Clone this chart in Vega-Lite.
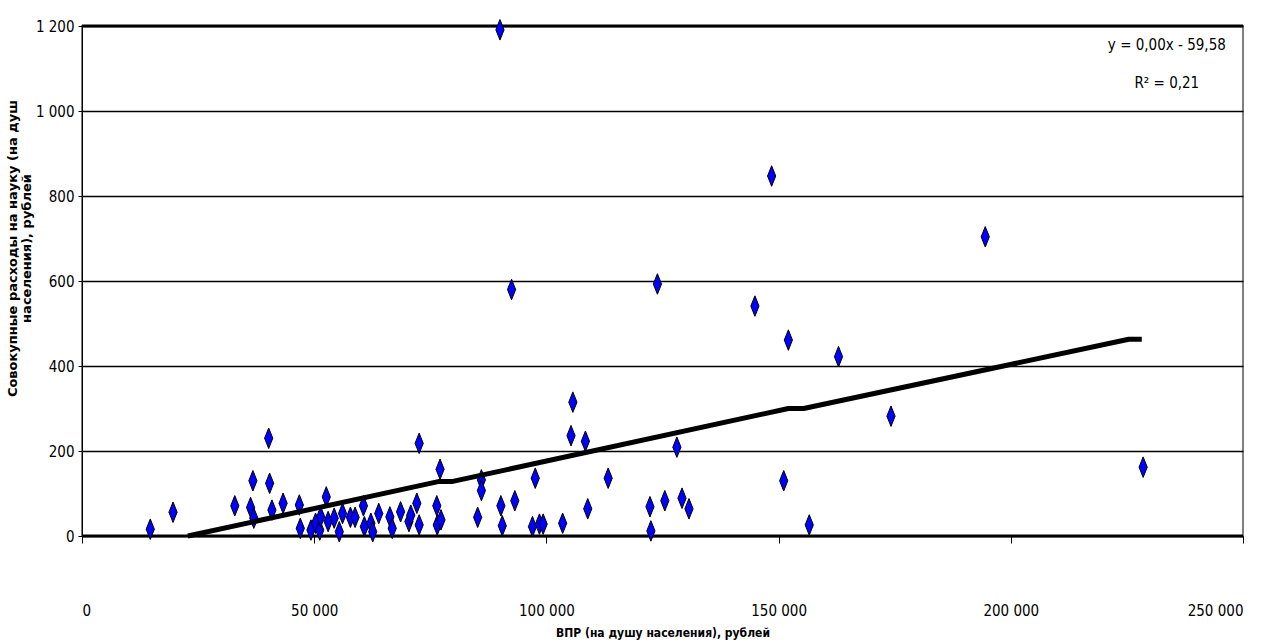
{
  "$schema": "https://vega.github.io/schema/vega-lite/v6.json",
  "width": 1161,
  "height": 510,
  "autosize": {"type": "none"},
  "padding": {"left": 82, "top": 26, "right": 22, "bottom": 105},
  "background": "white",
  "config": {
    "view": {"stroke": "#808080", "strokeWidth": 2},
    "font": "Liberation Sans Narrow, DejaVu Sans Condensed, Liberation Sans, sans-serif",
    "axis": {
      "domainColor": "black",
      "tickColor": "black",
      "gridColor": "black",
      "labelColor": "black",
      "titleColor": "black",
      "labelFont": "Liberation Sans Narrow, DejaVu Sans Condensed, Liberation Sans, sans-serif",
      "labelFontSize": 15,
      "labelExpr": "replace(format(datum.value, ','), ',', ' ')"
    },
    "axisX": {
      "grid": false,
      "domain": false,
      "tickSize": 7,
      "labelPadding": 60,
      "titleFont": "Liberation Sans Narrow, DejaVu Sans Condensed, Liberation Sans, sans-serif",
      "titleFontWeight": "bold",
      "titleFontSize": 12,
      "titlePadding": 9
    },
    "axisY": {
      "grid": true,
      "gridWidth": 1.3,
      "domain": true,
      "domainWidth": 1,
      "tickSize": 4,
      "labelPadding": 4
    }
  },
  "datasets": {
    "pts": [
      {"x": 14700, "y": 16}, {"x": 19600, "y": 56}, {"x": 32900, "y": 71}, {"x": 36300, "y": 67},
      {"x": 36800, "y": 130}, {"x": 37000, "y": 42}, {"x": 40200, "y": 230}, {"x": 40400, "y": 124},
      {"x": 40900, "y": 61}, {"x": 43300, "y": 77}, {"x": 46800, "y": 73}, {"x": 47000, "y": 18},
      {"x": 49300, "y": 14}, {"x": 50300, "y": 30}, {"x": 51200, "y": 14}, {"x": 51400, "y": 45},
      {"x": 52600, "y": 92}, {"x": 53000, "y": 34}, {"x": 54300, "y": 42}, {"x": 55400, "y": 10},
      {"x": 56100, "y": 53}, {"x": 57800, "y": 44}, {"x": 58800, "y": 44}, {"x": 60600, "y": 71},
      {"x": 60800, "y": 22}, {"x": 62200, "y": 30}, {"x": 62600, "y": 10}, {"x": 63900, "y": 53},
      {"x": 66300, "y": 45}, {"x": 66800, "y": 18}, {"x": 68600, "y": 57}, {"x": 70400, "y": 34},
      {"x": 70800, "y": 49}, {"x": 72100, "y": 77}, {"x": 72600, "y": 26}, {"x": 72600, "y": 218},
      {"x": 76400, "y": 71}, {"x": 76500, "y": 26}, {"x": 77300, "y": 38}, {"x": 77100, "y": 157},
      {"x": 85200, "y": 44}, {"x": 86000, "y": 132}, {"x": 86000, "y": 107}, {"x": 90200, "y": 71},
      {"x": 90500, "y": 24}, {"x": 93200, "y": 83}, {"x": 92500, "y": 580}, {"x": 90000, "y": 1191},
      {"x": 97000, "y": 22}, {"x": 97600, "y": 136}, {"x": 98500, "y": 28}, {"x": 99300, "y": 28},
      {"x": 103500, "y": 30}, {"x": 105300, "y": 236}, {"x": 105700, "y": 315}, {"x": 108400, "y": 223},
      {"x": 108900, "y": 64}, {"x": 113300, "y": 136}, {"x": 122300, "y": 69}, {"x": 122500, "y": 12},
      {"x": 123900, "y": 593}, {"x": 125500, "y": 83}, {"x": 128100, "y": 209}, {"x": 129200, "y": 89},
      {"x": 130700, "y": 64}, {"x": 144900, "y": 541}, {"x": 148500, "y": 847}, {"x": 151100, "y": 130},
      {"x": 152100, "y": 461}, {"x": 156600, "y": 26}, {"x": 162900, "y": 422}, {"x": 174200, "y": 282},
      {"x": 194500, "y": 704}, {"x": 228500, "y": 162}
    ],
    "trend": [
      {"x": 22800, "y": 0}, {"x": 76700, "y": 128}, {"x": 79600, "y": 128},
      {"x": 152100, "y": 300}, {"x": 155400, "y": 300}, {"x": 225400, "y": 463}, {"x": 228200, "y": 463}
    ],
    "frame": [{"y": 0}, {"y": 1200}],
    "eq": [{"label": "y = 0,00x - 59,58", "x": 233600, "y": 1155}, {"label": "R² = 0,21", "x": 233600, "y": 1066}]
  },
  "layer": [
    {
      "data": {"name": "frame"},
      "mark": {"type": "rule", "color": "black", "strokeWidth": 3},
      "encoding": {
        "y": {"field": "y", "type": "quantitative", "scale": {"domain": [0, 1200], "nice": false}}
      }
    },
    {
      "data": {"name": "pts"},
      "mark": {
        "type": "point",
        "shape": "M0,-1L0.4,0L0,1L-0.4,0Z",
        "size": 420,
        "filled": true,
        "color": "#0000FF",
        "stroke": "black",
        "strokeWidth": 1,
        "opacity": 1
      },
      "encoding": {
        "x": {
          "field": "x", "type": "quantitative",
          "scale": {"domain": [0, 250000], "nice": false},
          "title": "ВПР (на душу населения), рублей",
          "axis": {"values": [0, 50000, 100000, 150000, 200000, 250000]}
        },
        "y": {
          "field": "y", "type": "quantitative",
          "scale": {"domain": [0, 1200], "nice": false},
          "title": ["Совокупные расходы на науку (на душ", "населения), рублей"],
          "axis": {
            "values": [0, 200, 400, 600, 800, 1000, 1200],
            "titleFont": "DejaVu Sans",
            "titleFontWeight": "bold",
            "titleFontSize": 13,
            "titleAngle": 270,
            "titleAlign": "center",
            "titleBaseline": "top",
            "titleX": -76,
            "titleY": 222,
            "titleLineHeight": 14
          }
        }
      }
    },
    {
      "data": {"name": "trend"},
      "mark": {"type": "line", "color": "black", "strokeWidth": 5, "strokeJoin": "round"},
      "encoding": {
        "x": {"field": "x", "type": "quantitative"},
        "y": {"field": "y", "type": "quantitative"}
      }
    },
    {
      "data": {"name": "eq"},
      "mark": {"type": "text", "font": "Liberation Sans Narrow, DejaVu Sans Condensed, Liberation Sans, sans-serif", "fontSize": 15, "color": "black"},
      "encoding": {
        "x": {"field": "x", "type": "quantitative"},
        "y": {"field": "y", "type": "quantitative"},
        "text": {"field": "label"}
      }
    }
  ]
}
